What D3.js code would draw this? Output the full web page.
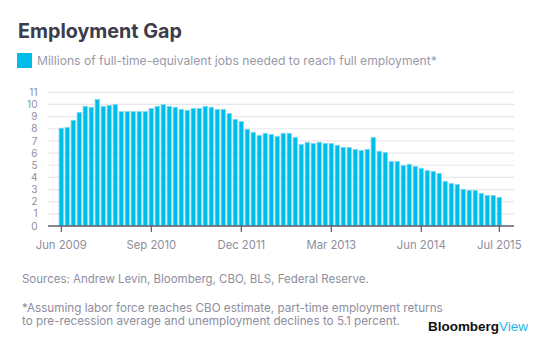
<!DOCTYPE html>
<html><head><meta charset="utf-8">
<script src="https://cdn.jsdelivr.net/npm/d3@7"></script>
<style>
html,body{margin:0;padding:0;background:#fff;}
svg{display:block;font-family:Inter, "Open Sans", sans-serif;}
</style></head>
<body><svg id="c" width="553" height="357"></svg>
<script>
const months = [
 "Jun 2009","Jul 2009","Aug 2009","Sep 2009","Oct 2009","Nov 2009","Dec 2009",
 "Jan 2010","Feb 2010","Mar 2010","Apr 2010","May 2010","Jun 2010","Jul 2010","Aug 2010","Sep 2010","Oct 2010","Nov 2010","Dec 2010",
 "Jan 2011","Feb 2011","Mar 2011","Apr 2011","May 2011","Jun 2011","Jul 2011","Aug 2011","Sep 2011","Oct 2011","Nov 2011","Dec 2011",
 "Jan 2012","Feb 2012","Mar 2012","Apr 2012","May 2012","Jun 2012","Jul 2012","Aug 2012","Sep 2012","Oct 2012","Nov 2012","Dec 2012",
 "Jan 2013","Feb 2013","Mar 2013","Apr 2013","May 2013","Jun 2013","Jul 2013","Aug 2013","Sep 2013","Oct 2013","Nov 2013","Dec 2013",
 "Jan 2014","Feb 2014","Mar 2014","Apr 2014","May 2014","Jun 2014","Jul 2014","Aug 2014","Sep 2014","Oct 2014","Nov 2014","Dec 2014",
 "Jan 2015","Feb 2015","Mar 2015","Apr 2015","May 2015","Jun 2015","Jul 2015"];
const jobsGap = [
 8.05,8.12,8.7,9.35,9.85,9.77,10.42,
 9.85,9.92,10.0,9.42,9.42,9.42,9.42,9.42,9.66,9.85,10.0,9.85,
 9.77,9.6,9.52,9.68,9.68,9.85,9.77,9.6,9.6,9.27,8.78,8.61,
 7.96,7.71,7.46,7.63,7.54,7.38,7.63,7.63,7.3,6.72,6.89,6.8,
 6.89,6.8,6.8,6.64,6.47,6.47,6.31,6.23,6.31,7.3,6.15,6.06,
 5.32,5.32,4.99,5.08,4.91,4.75,4.58,4.5,4.33,3.68,3.51,3.43,
 3.02,2.94,2.94,2.69,2.52,2.52,2.36];
const tickLabels = ["Jun 2009","Sep 2010","Dec 2011","Mar 2013","Jun 2014","Jul 2015"];
const yTicks = [0,1,2,3,4,5,6,7,8,9,10,11];
const title = "Employment Gap";
const legendLabel = "Millions of full-time-equivalent jobs needed to reach full employment*";
const sourceNote = "Sources: Andrew Levin, Bloomberg, CBO, BLS, Federal Reserve.";
const footnote = ["*Assuming labor force reaches CBO estimate, part-time employment returns",
                  "to pre-recession average and unemployment declines to 5.1 percent."];

const svg = d3.select("#c");
const barColor = "#00bce8", barStroke = "#86dcf3", gray = "#8e8e9e";

function fit(sel, w){
  const n = sel.node(); const fs = parseFloat(sel.attr("font-size"));
  const cur = n.getComputedTextLength();
  sel.attr("font-size", (fs*w/cur).toFixed(2));
}

const x = d3.scaleBand().domain(months).range([58.3, 502.3]).paddingInner(0.25).paddingOuter(0.125);
const y = d3.scaleLinear().domain([0,11]).range([226, 92.3]);
const gx0 = 48, gx1 = 514;

// grid
svg.append("g").selectAll("line").data(yTicks.filter(d=>d>0)).join("line")
  .attr("x1",gx0).attr("x2",gx1).attr("y1",d=>y(d)).attr("y2",d=>y(d))
  .attr("stroke","#e8e8ec").attr("stroke-width",1.2);

// y labels
svg.append("g").selectAll("text").data(yTicks).join("text")
  .attr("x",37.5).attr("y",d=>y(d)).attr("dy","0.36em").attr("text-anchor","end")
  .attr("font-size",10).attr("fill",gray).text(d=>d);

// bars
svg.append("g").selectAll("rect").data(jobsGap).join("rect")
  .attr("x",(d,i)=>x(months[i])).attr("width",x.bandwidth())
  .attr("y",d=>y(d)).attr("height",d=>y(0)-y(d))
  .attr("fill",barColor).attr("stroke",barStroke).attr("stroke-width",0.8);

// x axis
const ax = svg.append("g").attr("transform","translate(0,226)");
ax.append("line").attr("x1",gx0).attr("x2",gx1).attr("stroke","#5c5c68").attr("stroke-width",1.5);
ax.selectAll("line.t").data(tickLabels).join("line").attr("class","t")
  .attr("x1",d=>x(d)+x.bandwidth()/2).attr("x2",d=>x(d)+x.bandwidth()/2)
  .attr("y1",0).attr("y2",6).attr("stroke","#5c5c68").attr("stroke-width",1.2);
ax.selectAll("text").data(tickLabels).join("text")
  .attr("x",d=>x(d)+x.bandwidth()/2).attr("y",19.3).attr("dy","0.36em")
  .attr("text-anchor","middle").attr("font-size",11.3).attr("fill",gray).text(d=>d);

// title
const t = svg.append("text").attr("x",18).attr("y",37.7).attr("font-size",20)
  .attr("font-weight",700).attr("fill","#3c3c4c").text(title);
fit(t,164);

// legend
svg.append("rect").attr("x",17).attr("y",53).attr("width",15).attr("height",15).attr("fill",barColor);
const lt = svg.append("text").attr("x",37).attr("y",60.5).attr("dy","0.36em").attr("font-size",12)
  .attr("fill","#9a9aaa").text(legendLabel);
fit(lt,400);

// sources
const s = svg.append("text").attr("x",22).attr("y",279.3).attr("dy","0.36em").attr("font-size",11)
  .attr("fill",gray).text(sourceNote);
fit(s,347);
const f1 = svg.append("text").attr("x",22).attr("y",307.7).attr("dy","0.36em").attr("font-size",11)
  .attr("fill",gray).text(footnote[0]);
fit(f1,420.7);
svg.append("text").attr("x",22).attr("y",320.3).attr("dy","0.36em").attr("font-size",f1.attr("font-size"))
  .attr("fill",gray).text(footnote[1]);

// logo
const logo = svg.append("text").attr("x",428).attr("y",331).attr("font-size",13)
  .attr("font-family","'Liberation Sans', Arial, sans-serif");
logo.append("tspan").attr("font-weight",700).attr("fill","#111").text("Bloomberg");
logo.append("tspan").attr("fill","#1db6e8").attr("font-weight",400).text("View");
fit(logo,100);
</script></body></html>
